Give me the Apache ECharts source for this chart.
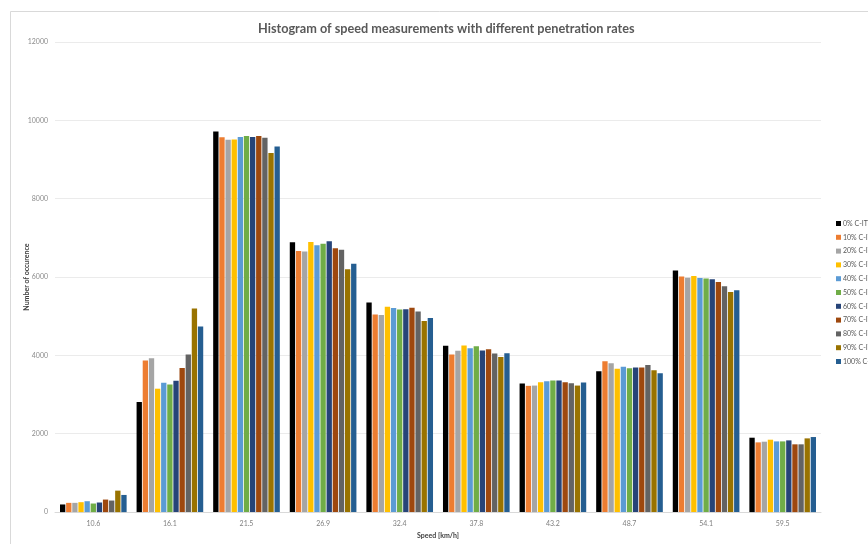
<!DOCTYPE html>
<html><head><meta charset="utf-8">
<script src="https://cdn.jsdelivr.net/npm/echarts@6/dist/echarts.min.js"></script>
<style>html,body{margin:0;padding:0;background:#fff}#c{width:868px;height:544px}</style>
</head><body><div id="c"></div>
<script>
const categories = ['10.6','16.1','21.5','26.9','32.4','37.8','43.2','48.7','54.1','59.5'];
const seriesNames = ['0% C-ITS','10% C-ITS','20% C-ITS','30% C-ITS','40% C-ITS','50% C-ITS','60% C-ITS','70% C-ITS','80% C-ITS','90% C-ITS','100% C-ITS'];
const colors = ['#000000','#ED7D31','#A5A5A5','#FFC000','#5B9BD5','#70AD47','#264478','#9E480E','#636363','#997300','#255E91'];
const yTicks = [0,2000,4000,6000,8000,10000,12000];
const p0   = [195, 2810, 9713, 6886, 5350, 4245, 3283, 3595, 6169, 1899];
const p10  = [236, 3870, 9570, 6666, 5046, 4025, 3223, 3848, 6017, 1780];
const p20  = [236, 3930, 9502, 6650, 5030, 4118, 3230, 3797, 5983, 1797];
const p30  = [253, 3150, 9510, 6894, 5240, 4253, 3316, 3662, 6025, 1848];
const p40  = [278, 3300, 9578, 6810, 5207, 4185, 3342, 3713, 5975, 1805];
const p50  = [219, 3260, 9603, 6852, 5172, 4236, 3359, 3671, 5966, 1805];
const p60  = [245, 3350, 9578, 6911, 5180, 4126, 3359, 3688, 5941, 1831];
const p70  = [320, 3680, 9603, 6734, 5215, 4160, 3316, 3688, 5873, 1730];
const p80  = [295, 4020, 9553, 6700, 5122, 4050, 3291, 3755, 5764, 1730];
const p90  = [548, 5200, 9165, 6200, 4878, 3957, 3230, 3620, 5620, 1882];
const p100 = [438, 4740, 9333, 6337, 4954, 4058, 3308, 3544, 5663, 1916];
const values = [p0,p10,p20,p30,p40,p50,p60,p70,p80,p90,p100];

const chart = echarts.init(document.getElementById('c'), null, {renderer:'canvas'});
const font = 'Lato, "Open Sans", sans-serif';
chart.setOption({
  animation:false,
  backgroundColor:'#fff',
  color: colors,
  graphic:[{type:'rect', shape:{x:10.5,y:11.5,width:900,height:600}, style:{fill:'none', stroke:'#d9d9d9', lineWidth:1}, silent:true}],
  title:{text:'Histogram of speed measurements with different penetration rates', left:253, top:17,
    textStyle:{fontFamily:font, fontSize:12.7, fontWeight:'bold', color:'#595959'}},
  legend:{orient:'vertical', left:831, top:215, itemWidth:5, itemHeight:5, itemGap:6.8, icon:'rect',
    textStyle:{fontFamily:font, fontSize:7, color:'#595959', padding:[0,0,0,-3]}, data:seriesNames},
  grid:{left:55, right:47, top:42, bottom:28, containLabel:false},
  xAxis:{type:'category', data:categories, name:'Speed [km/h]', nameLocation:'middle', nameGap:19,
    nameTextStyle:{fontFamily:font, fontSize:7, fontWeight:'bold', color:'#404040'},
    axisLine:{lineStyle:{color:'#d9d9d9'}}, axisTick:{show:false},
    axisLabel:{fontFamily:font, fontSize:7, color:'#7f7f7f', margin:8}},
  yAxis:{type:'value', min:yTicks[0], max:yTicks[yTicks.length-1], interval:2000, name:'Number of occurence', nameLocation:'middle', nameGap:25, nameMoveOverlap:false,
    nameTextStyle:{fontFamily:font, fontSize:7, fontWeight:'bold', color:'#404040'},
    axisLine:{show:false}, axisTick:{show:false},
    splitLine:{lineStyle:{color:'#ebebeb'}},
    axisLabel:{fontFamily:font, fontSize:7, color:'#8c8c8c', margin:7, formatter:v=>String(v)}},
  series: seriesNames.map((n,i)=>({name:n, type:'bar', data:values[i], barGap:'15%', barCategoryGap:'13%',
    itemStyle:{color:colors[i]}}))
});
</script></body></html>
